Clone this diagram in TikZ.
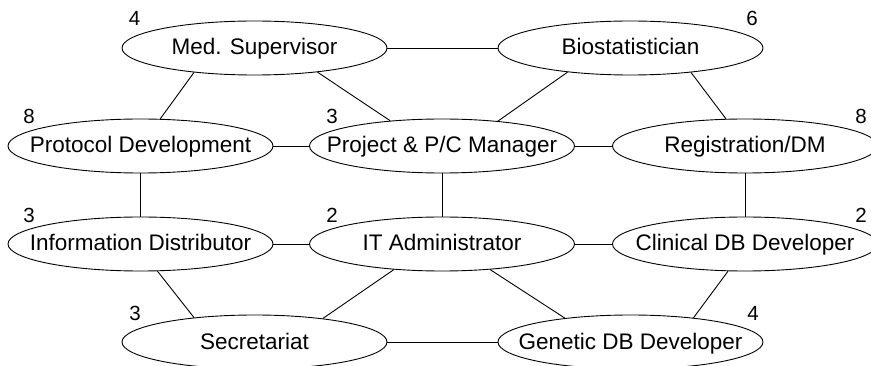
\documentclass[tikz,border=0pt]{standalone}
\usepackage{fontspec}
\setmainfont{Liberation Sans}
\usetikzlibrary{shapes.geometric}
\begin{document}
\begin{tikzpicture}[x=1pt,y=-1pt,
  role/.style={draw, ellipse, line width=0.9pt, minimum width=265pt, minimum height=54pt,
    inner sep=0pt, text height=17pt, text depth=3pt, font=\fontsize{22.5}{23}\selectfont},
  link/.style={line width=0.9pt},
  count/.style={inner sep=0pt, font=\fontsize{20.5}{21}\selectfont}]
\useasboundingbox (0,0) rectangle (871,366);
\clip (0,0) rectangle (871,366);
% nodes
\node[role] (med)   at (254.5,48)  {\makebox[0pt]{Med. Supervisor}};
\node[role] (bio)   at (630.5,48)  {\makebox[0pt]{Biostatistician}};
\node[role] (proto) at (140.5,146) {\makebox[0pt]{Protocol Development}};
\node[role] (proj)  at (442,146)   {\makebox[0pt]{Project \& P/C Manager}};
\node[role] (reg)   at (745,146)   {\makebox[0pt]{Registration/DM}};
\node[role] (info)  at (140.5,244) {\makebox[0pt]{Information Distributor}};
\node[role] (it)    at (442,244)   {\makebox[0pt]{IT Administrator}};
\node[role] (clin)  at (745,244)   {\makebox[0pt]{Clinical DB Developer}};
\node[role] (sec)   at (254.5,342) {\makebox[0pt]{Secretariat}};
\node[role] (gen)   at (630.5,342) {\makebox[0pt]{Genetic DB Developer}};
% counts
\node[count] (cmed)   at (134.5,18.5) {4};
\node[count] (cbio)   at (752,18.5)   {6};
\node[count] (cproto) at (29,116)     {8};
\node[count] (cproj)  at (332,116)    {3};
\node[count] (creg)   at (861,116)    {8};
\node[count] (cinfo)  at (29,215)     {3};
\node[count] (cit)    at (332,215)    {2};
\node[count] (cclin)  at (861,215)    {2};
\node[count] (csec)   at (135,313)    {3};
\node[count] (cgen)   at (753,313)    {4};
% horizontal links
\draw[link] (med.east) -- (bio.west);
\draw[link] (proto.east) -- (proj.west);
\draw[link] (proj.east) -- (reg.west);
\draw[link] (info.east) -- (it.west);
\draw[link] (it.east) -- (clin.west);
\draw[link] (sec.east) -- (gen.west);
% vertical links
\draw[link] (proto.south) -- (info.north);
\draw[link] (proj.south) -- (it.north);
\draw[link] (reg.south) -- (clin.north);
% diagonal links
\draw[link] (med.202) -- (proto.54);
\draw[link] (med.339) -- (proj.154);
\draw[link] (bio.201) -- (proj.24);
\draw[link] (bio.338) -- (reg.125.5);
\draw[link] (info.302.5) -- (sec.158);
\draw[link] (it.208.4) -- (sec.19.6);
\draw[link] (it.332) -- (gen.160);
\draw[link] (clin.238) -- (gen.21);
\end{tikzpicture}
\end{document}
